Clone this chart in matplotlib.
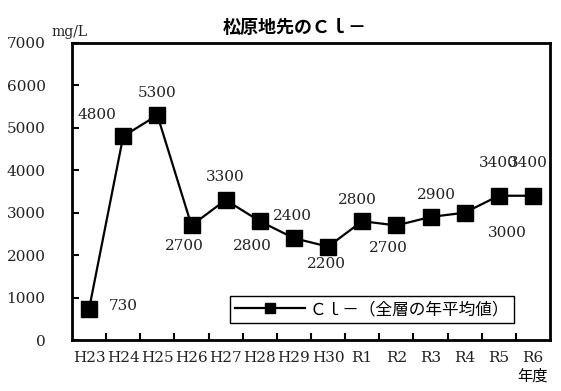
import matplotlib
matplotlib.use("Agg")
import matplotlib.pyplot as plt

years = ["H23", "H24", "H25", "H26", "H27", "H28", "H29", "H30",
         "R1", "R2", "R3", "R4", "R5", "R6"]
values = [730, 4800, 5300, 2700, 3300, 2800, 2400, 2200,
          2800, 2700, 2900, 3000, 3400, 3400]
value_labels = ["730", "4800", "5300", "2700", "3300", "2800", "2400", "2200",
                "2800", "2700", "2900", "3000", "3400", "3400"]
# label offsets in pixels (dx, dy up)
label_offsets = [(34, 3), (-26, 21), (0, 22), (-7, -21), (0, 23), (-7, -25),
                 (-1, 22), (-2, -17), (-5, 21), (-8, -23), (6, 22), (43, -20),
                 (0, 33), (-5, 33)]
yticks = [0, 1000, 2000, 3000, 4000, 5000, 6000, 7000]

SERIF = ["DejaVu Serif", "Noto Sans CJK JP"]
CJK = ["Noto Sans CJK JP", "DejaVu Sans"]

W, H = 561, 391
fig = plt.figure(figsize=(W / 100, H / 100), dpi=100)
ax = fig.add_axes([72 / W, 1 - 340 / H, (550 - 72) / W, (340 - 43) / H])

x = list(range(len(years)))
line, = ax.plot(x, values, color="black", lw=1.6, marker="s", markersize=11.5,
                label="Ｃｌ－（全層の年平均値）")

for xi, v, lab, (dx, dy) in zip(x, values, value_labels, label_offsets):
    ax.annotate(lab, (xi, v), xytext=(dx, dy), textcoords="offset pixels",
                ha="center", va="center", fontsize=11, family=SERIF, color="#222222")

ax.set_xlim(-0.5, len(years) - 0.5)
ax.set_ylim(0, 7000)
ax.set_yticks(yticks)
ax.set_yticklabels([str(t) for t in yticks], family=SERIF, fontsize=11, color="#222222")
ax.set_xticks(x)
ax.set_xticklabels(years, family=SERIF, fontsize=11, color="#222222")
ax.set_xticks([i + 0.5 for i in x[:-1]], minor=True)
ax.tick_params(axis="x", which="major", length=0, pad=8)
ax.tick_params(axis="x", which="minor", direction="in", length=5, width=1.5)
ax.tick_params(axis="y", direction="in", length=5, width=1.5, pad=19)
for s in ax.spines.values():
    s.set_linewidth(2)

leg = ax.legend(handles=[line], loc="center", bbox_to_anchor=(0.628, 0.103),
                prop={"family": CJK, "size": 12}, frameon=True, fancybox=False,
                edgecolor="black", framealpha=1, handlelength=4.2,
                borderpad=0.3, handletextpad=0.3, markerscale=0.6)
leg.get_frame().set_linewidth(1)

fig.text(295 / W, 1 - 27 / H, "松原地先のＣｌ－", ha="center", va="center",
         fontsize=13, fontweight="bold", family=CJK)
fig.text(69 / W, 1 - 32 / H, "mg/L", ha="center", va="center", fontsize=10, family=SERIF,
         color="#222222")
fig.text(533 / W, 1 - 376 / H, "年度", ha="center", va="center", fontsize=11, family=CJK)

fig.savefig("out.png", dpi=100)
